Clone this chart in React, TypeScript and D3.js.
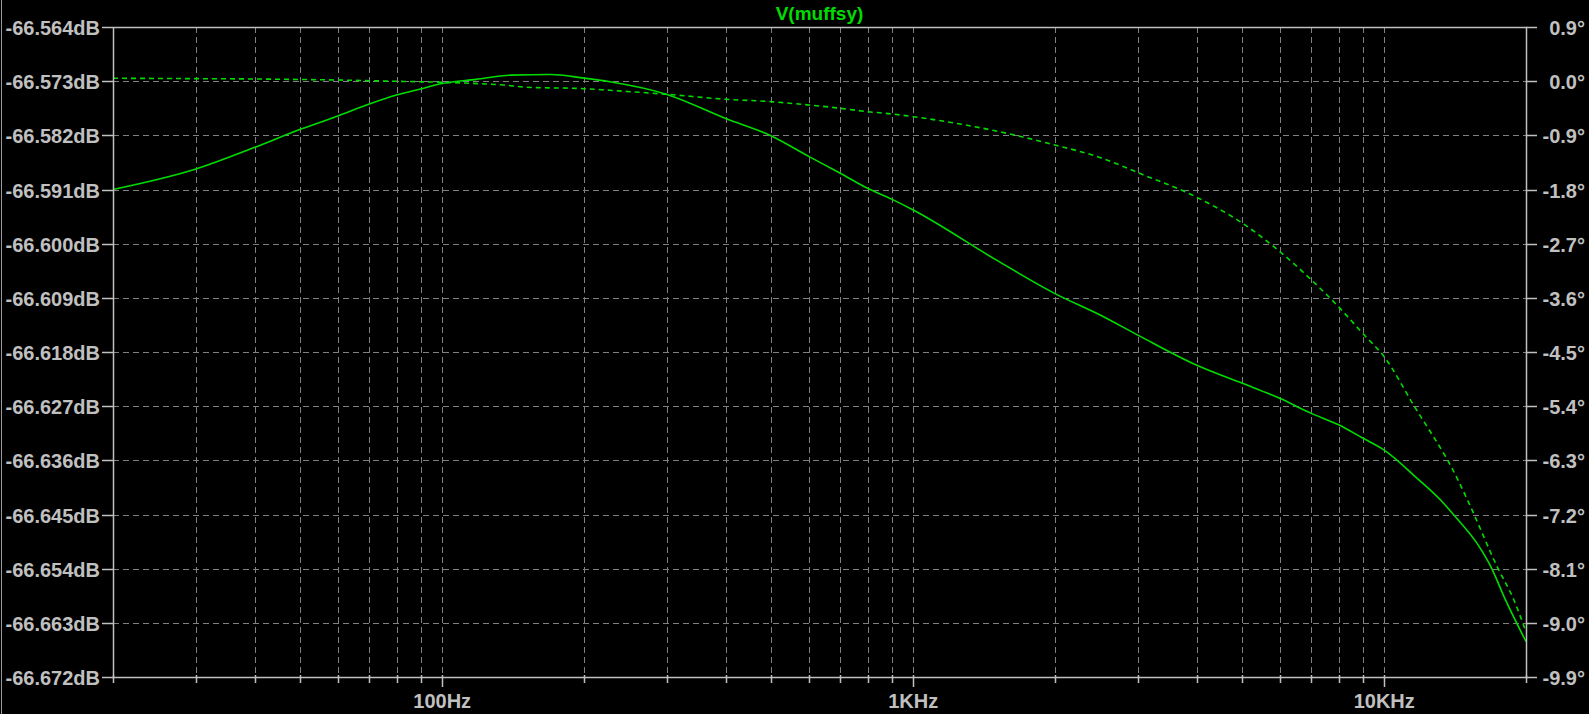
import * as d3 from "d3";
import React from "react";

const WIDTH = 1589;
const HEIGHT = 714;
const M = { left: 113, right: 1526, top: 27, bottom: 677 };

// magnitude trace (solid, left axis)
const magFreq = [
  20, 30, 40, 50, 60, 70, 80, 90, 100, 118, 140, 170, 200, 227, 300, 400, 500,
  600, 700, 800, 900, 1000, 1500, 2000, 2500, 3000, 4000, 5000, 6000, 7000,
  8000, 9000, 10000, 11750, 13170, 14060, 15900, 16900, 18000, 20000,
];
const magDb = [
  -66.591, -66.5876, -66.584, -66.581, -66.5788, -66.5768, -66.5753, -66.5743,
  -66.5734, -66.5727, -66.572, -66.5719, -66.5725, -66.5731, -66.5752,
  -66.5792, -66.5821, -66.5855, -66.5883, -66.5908, -66.5926, -66.5944,
  -66.6027, -66.6083, -66.6119, -66.6152, -66.6202, -66.6232, -66.6257,
  -66.6282, -66.6301, -66.6323, -66.6343, -66.639, -66.6426, -66.6451,
  -66.6503, -66.6539, -66.6588, -66.6661,
];

// phase trace (dashed, right axis)
const phaseFreq = [
  20, 30, 40, 60, 80, 100, 120, 135, 150, 200, 227, 300, 400, 500, 600, 700,
  800, 900, 1000, 1500, 2000, 2500, 3000, 4000, 5000, 6000, 7000, 8000, 9000,
  10000, 11540, 14290, 15130, 17380, 18850, 20000,
];
const phaseDeg = [
  0.048, 0.042, 0.036, 0.019, -0.002, -0.019, -0.042, -0.064, -0.1, -0.125,
  -0.152, -0.218, -0.301, -0.341, -0.396, -0.45, -0.507, -0.545, -0.59,
  -0.828, -1.061, -1.272, -1.52, -1.93, -2.36, -2.83, -3.3, -3.75, -4.19,
  -4.58, -5.38, -6.6, -7.01, -8.07, -8.62, -9.15,
];

const leftTicks = [
  -66.564, -66.573, -66.582, -66.591, -66.6, -66.609, -66.618, -66.627,
  -66.636, -66.645, -66.654, -66.663, -66.672,
];
const rightTicks = [
  0.9, 0, -0.9, -1.8, -2.7, -3.6, -4.5, -5.4, -6.3, -7.2, -8.1, -9.0, -9.9,
];
const xLabelTicks = [100, 1000, 10000];
const xLabels = ["100Hz", "1KHz", "10KHz"];

const TITLE = "V(muffsy)";
const GREEN = "#00dc00";
const FRAME = "#c0c0c0";
const GRID = "#808080";
const FONT = "'Liberation Sans', Arial, sans-serif";

const App = () => {
  const x = d3.scaleLog().domain([20, 20000]).range([M.left, M.right]);
  const yL = d3
    .scaleLinear()
    .domain([-66.672, -66.564])
    .range([M.bottom, M.top]);
  const yR = d3.scaleLinear().domain([-9.9, 0.9]).range([M.bottom, M.top]);

  const gridX = x.ticks().filter((t) => t > 20 && t < 20000);

  const magLine = d3
    .line<number>()
    .x((_, i) => x(magFreq[i]))
    .y((d) => yL(d))
    .curve(d3.curveMonotoneX);
  const phaseLine = d3
    .line<number>()
    .x((_, i) => x(phaseFreq[i]))
    .y((d) => yR(d))
    .curve(d3.curveMonotoneX);

  return (
    <svg
      width={WIDTH}
      height={HEIGHT}
      style={{ position: "absolute", left: 0, top: 0, display: "block" }}
      fontFamily={FONT}
      fontWeight="bold"
    >
      <rect width={WIDTH} height={HEIGHT} fill="#000" />
      <line x1={1.5} x2={1.5} y1={0} y2={HEIGHT} stroke="#9a9a9a" />

      {/* grid */}
      <g stroke={GRID} strokeWidth={1} strokeDasharray="6 4">
        {gridX.map((t) => (
          <line
            key={"gx" + t}
            x1={Math.round(x(t)) + 0.5}
            x2={Math.round(x(t)) + 0.5}
            y1={M.top}
            y2={M.bottom}
          />
        ))}
        {leftTicks.slice(1, -1).map((t) => (
          <line
            key={"gy" + t}
            x1={M.left}
            x2={M.right}
            y1={Math.round(yL(t)) + 0.5}
            y2={Math.round(yL(t)) + 0.5}
          />
        ))}
      </g>

      {/* traces */}
      <path
        d={phaseLine(phaseDeg) || ""}
        fill="none"
        stroke={GREEN}
        strokeWidth={1.6}
        strokeDasharray="5 4"
      />
      <path
        d={magLine(magDb) || ""}
        fill="none"
        stroke={GREEN}
        strokeWidth={1.6}
      />

      {/* frame */}
      <rect
        x={M.left + 0.5}
        y={M.top + 0.5}
        width={M.right - M.left}
        height={M.bottom - M.top}
        fill="none"
        stroke={FRAME}
        strokeWidth={1.5}
      />

      {/* left axis */}
      {leftTicks.map((t) => (
        <g key={"l" + t} transform={`translate(0,${Math.round(yL(t)) + 0.5})`}>
          <line x1={102} x2={M.left} stroke={FRAME} strokeWidth={1.5} />
          <text
            x={100}
            dy="0.36em"
            textAnchor="end"
            fill={FRAME}
            fontSize={20}
          >
            {t.toFixed(3)}dB
          </text>
        </g>
      ))}

      {/* right axis */}
      {rightTicks.map((t) => (
        <g key={"r" + t} transform={`translate(0,${Math.round(yR(t)) + 0.5})`}>
          <line x1={M.right} x2={1537} stroke={FRAME} strokeWidth={1.5} />
          <text
            x={1585}
            dy="0.36em"
            textAnchor="end"
            fill={FRAME}
            fontSize={20}
          >
            {(Math.abs(t) < 1e-9 ? 0 : t).toFixed(1)}°
          </text>
        </g>
      ))}

      {/* bottom axis */}
      {x.ticks().map((t) => (
        <line
          key={"bt" + t}
          x1={Math.round(x(t)) + 0.5}
          x2={Math.round(x(t)) + 0.5}
          y1={M.bottom - 2}
          y2={xLabelTicks.includes(t) ? M.bottom + 10 : M.bottom + 6}
          stroke={FRAME}
          strokeWidth={1.5}
        />
      ))}
      {xLabelTicks.map((t, i) => (
        <text
          key={"bl" + t}
          x={x(t)}
          y={708}
          textAnchor="middle"
          fill={FRAME}
          fontSize={20}
        >
          {xLabels[i]}
        </text>
      ))}

      <text
        x={(M.left + M.right) / 2}
        y={20}
        textAnchor="middle"
        fill={GREEN}
        fontSize={19}
      >
        {TITLE}
      </text>
    </svg>
  );
};

export default App;
